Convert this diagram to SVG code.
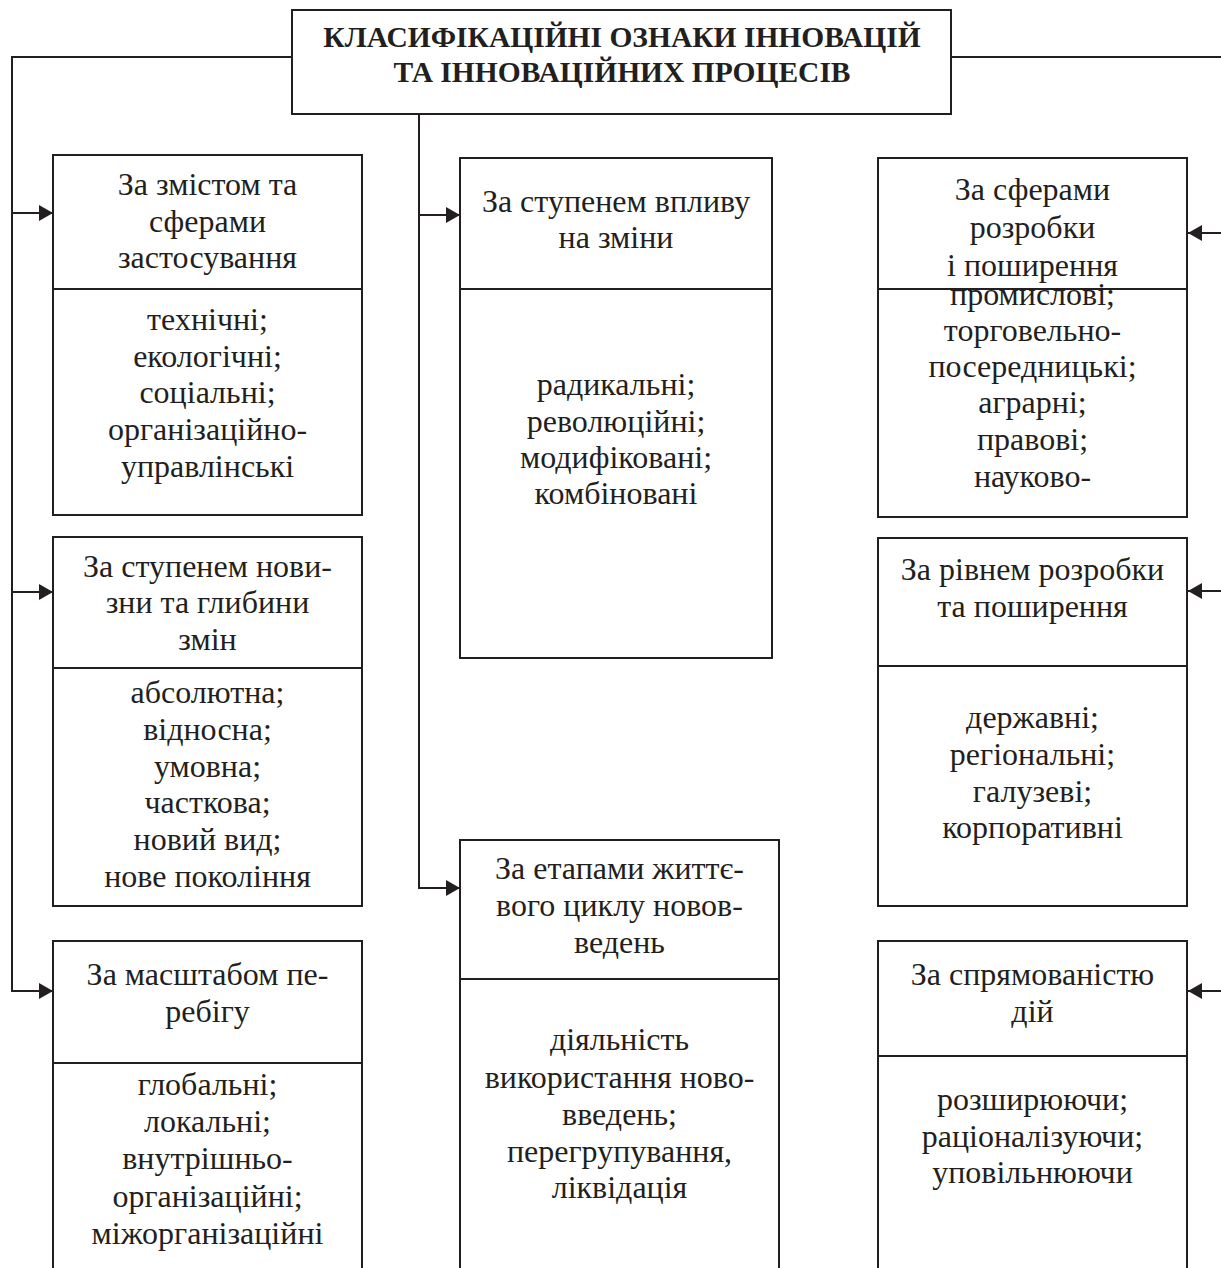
<svg xmlns="http://www.w3.org/2000/svg" width="1221" height="1268" viewBox="0 0 1221 1268">
<style>
.box{fill:#fff;stroke:#231f20;stroke-width:2}
.div{stroke:#231f20;stroke-width:2}
.t{font-family:"Liberation Serif","Times New Roman",serif;font-size:32px;fill:#231f20;text-anchor:middle}
.title{font-family:"Liberation Serif","Times New Roman",serif;font-size:29.5px;font-weight:bold;fill:#231f20;text-anchor:middle}
.c{fill:none;stroke:#231f20;stroke-width:2}
</style>
<defs>
<marker id="arr" markerUnits="userSpaceOnUse" markerWidth="15" markerHeight="16" refX="14" refY="8" orient="auto">
<path d="M0,0 L14,8 L0,16 z" fill="#231f20"/>
</marker>
</defs>
<rect width="1221" height="1268" fill="#fff"/>
<g id="connectors">
<path class="c" d="M292,57 H12 V991"/>
<path class="c" d="M951,57 H1222 V991"/>
<path class="c" d="M419,114 V888"/>
<line class="c" x1="12" y1="213" x2="53" y2="213" marker-end="url(#arr)"/>
<line class="c" x1="12" y1="592" x2="53" y2="592" marker-end="url(#arr)"/>
<line class="c" x1="11" y1="991" x2="53" y2="991" marker-end="url(#arr)"/>
<line class="c" x1="419" y1="215" x2="460" y2="215" marker-end="url(#arr)"/>
<line class="c" x1="418" y1="888" x2="460" y2="888" marker-end="url(#arr)"/>
<line class="c" x1="1222" y1="233" x2="1188" y2="233" marker-end="url(#arr)"/>
<line class="c" x1="1222" y1="591" x2="1188" y2="591" marker-end="url(#arr)"/>
<line class="c" x1="1222" y1="991" x2="1188" y2="991" marker-end="url(#arr)"/>
</g>
<g id="title">
<rect class="box" x="292" y="10" width="659" height="104"/>
<text class="title" x="622" y="47">КЛАСИФІКАЦІЙНІ ОЗНАКИ ІННОВАЦІЙ</text>
<text class="title" x="622" y="82">ТА ІННОВАЦІЙНИХ ПРОЦЕСІВ</text>
</g>
<g id="n-zmist">
<rect class="box" x="53" y="155" width="309" height="360"/>
<line class="div" x1="53" y1="289" x2="362" y2="289"/>
<text class="t" x="207.5" y="195">За змістом та</text>
<text class="t" x="207.5" y="232">сферами</text>
<text class="t" x="207.5" y="268">застосування</text>
<text class="t" x="207.5" y="330">технічні;</text>
<text class="t" x="207.5" y="367">екологічні;</text>
<text class="t" x="207.5" y="403">соціальні;</text>
<text class="t" x="207.5" y="440">організаційно-</text>
<text class="t" x="207.5" y="477">управлінські</text>
</g>
<g id="n-novyzna">
<rect class="box" x="53" y="537" width="309" height="369"/>
<line class="div" x1="53" y1="668" x2="362" y2="668"/>
<text class="t" x="207.5" y="577">За ступенем нови-</text>
<text class="t" x="207.5" y="613">зни та глибини</text>
<text class="t" x="207.5" y="650">змін</text>
<text class="t" x="207.5" y="703">абсолютна;</text>
<text class="t" x="207.5" y="740">відносна;</text>
<text class="t" x="207.5" y="777">умовна;</text>
<text class="t" x="207.5" y="813">часткова;</text>
<text class="t" x="207.5" y="850">новий вид;</text>
<text class="t" x="207.5" y="887">нове покоління</text>
</g>
<g id="n-masshtab">
<rect class="box" x="53" y="941" width="309" height="340"/>
<line class="div" x1="53" y1="1063" x2="362" y2="1063"/>
<text class="t" x="207.5" y="985">За масштабом пе-</text>
<text class="t" x="207.5" y="1022">ребігу</text>
<text class="t" x="207.5" y="1095">глобальні;</text>
<text class="t" x="207.5" y="1132">локальні;</text>
<text class="t" x="207.5" y="1169">внутрішньо-</text>
<text class="t" x="207.5" y="1207">організаційні;</text>
<text class="t" x="207.5" y="1244">міжорганізаційні</text>
</g>
<g id="n-vplyv">
<rect class="box" x="460" y="158" width="312" height="500"/>
<line class="div" x1="460" y1="289" x2="772" y2="289"/>
<text class="t" x="616" y="212">За ступенем впливу</text>
<text class="t" x="616" y="248">на зміни</text>
<text class="t" x="616" y="395">радикальні;</text>
<text class="t" x="616" y="432">революційні;</text>
<text class="t" x="616" y="468">модифіковані;</text>
<text class="t" x="616" y="504">комбіновані</text>
</g>
<g id="n-etapy">
<rect class="box" x="460" y="840" width="319" height="440"/>
<line class="div" x1="460" y1="979" x2="779" y2="979"/>
<text class="t" x="619.5" y="879">За етапами життє-</text>
<text class="t" x="619.5" y="916">вого циклу новов-</text>
<text class="t" x="619.5" y="953">ведень</text>
<text class="t" x="619.5" y="1050">діяльність</text>
<text class="t" x="619.5" y="1088">використання ново-</text>
<text class="t" x="619.5" y="1125">введень;</text>
<text class="t" x="619.5" y="1162">перегрупування,</text>
<text class="t" x="619.5" y="1198">ліквідація</text>
</g>
<g id="n-sfery">
<rect class="box" x="878" y="158" width="309" height="359"/>
<line class="div" x1="878" y1="289" x2="1187" y2="289"/>
<text class="t" x="1032.5" y="200">За сферами</text>
<text class="t" x="1032.5" y="238">розробки</text>
<text class="t" x="1032.5" y="276">і поширення</text>
<text class="t" x="1032.5" y="305">промислові;</text>
<text class="t" x="1032.5" y="341">торговельно-</text>
<text class="t" x="1032.5" y="377">посередницькі;</text>
<text class="t" x="1032.5" y="413">аграрні;</text>
<text class="t" x="1032.5" y="450">правові;</text>
<text class="t" x="1032.5" y="487">науково-</text>
</g>
<g id="n-riven">
<rect class="box" x="878" y="538" width="309" height="368"/>
<line class="div" x1="878" y1="666" x2="1187" y2="666"/>
<text class="t" x="1032.5" y="580">За рівнем розробки</text>
<text class="t" x="1032.5" y="617">та поширення</text>
<text class="t" x="1032.5" y="728">державні;</text>
<text class="t" x="1032.5" y="765">регіональні;</text>
<text class="t" x="1032.5" y="802">галузеві;</text>
<text class="t" x="1032.5" y="838">корпоративні</text>
</g>
<g id="n-spryam">
<rect class="box" x="878" y="941" width="309" height="340"/>
<line class="div" x1="878" y1="1056" x2="1187" y2="1056"/>
<text class="t" x="1032.5" y="985">За спрямованістю</text>
<text class="t" x="1032.5" y="1022">дій</text>
<text class="t" x="1032.5" y="1110">розширюючи;</text>
<text class="t" x="1032.5" y="1147">раціоналізуючи;</text>
<text class="t" x="1032.5" y="1183">уповільнюючи</text>
</g>
</svg>
